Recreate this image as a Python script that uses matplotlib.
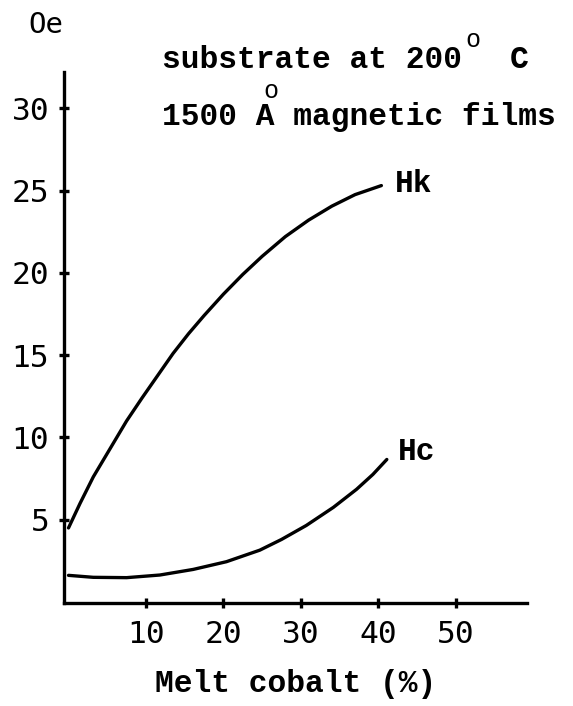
import matplotlib
matplotlib.use("Agg")
import matplotlib.pyplot as plt

# Melt cobalt content (%) and measured fields (Oe)
hk_cobalt = [0, 1.5, 3.2, 5.35, 7.5, 9.5, 11.5, 13.5, 15.5, 17.5, 20, 22.5, 25,
             28, 31, 34, 37, 40.4]
hk_field = [4.5, 6.0, 7.6, 9.3, 11.0, 12.4, 13.75, 15.1, 16.3, 17.4, 18.7, 19.9,
            21.0, 22.2, 23.2, 24.05, 24.75, 25.3]

hc_cobalt = [0, 3.2, 7.5, 11.8, 16.1, 20.4, 24.7, 27.5, 30.7, 34.2, 37.2, 39.3, 41.1]
hc_field = [1.62, 1.5, 1.48, 1.64, 1.98, 2.45, 3.15, 3.8, 4.65, 5.75, 6.85, 7.75, 8.66]

x_ticks = [10, 20, 30, 40, 50]
y_ticks = [5, 10, 15, 20, 25, 30]

W, H = 573, 706
DPI = 100
type_font = "Liberation Mono"
num_font = "DejaVu Sans Mono"
fs = 22.5

fig = plt.figure(figsize=(W / DPI, H / DPI), dpi=DPI)
ax = fig.add_axes([64 / W, 1 - 603 / H, (527 - 64) / W, (603 - 72) / H])

lw = 2.4
ax.plot(hk_cobalt, hk_field, color="black", lw=lw,
        solid_capstyle="round", solid_joinstyle="round")
ax.plot(hc_cobalt, hc_field, color="black", lw=lw,
        solid_capstyle="round", solid_joinstyle="round")

ax.set_xlim(-0.58, 59.2)
ax.set_ylim(-0.06, 32.2)

for side in ("top", "right"):
    ax.spines[side].set_visible(False)
for side in ("left", "bottom"):
    ax.spines[side].set_linewidth(2.4)

ax.set_xticks(x_ticks)
ax.set_yticks(y_ticks)
ax.set_xticklabels([str(v) for v in x_ticks], fontfamily=num_font, fontsize=fs)
ax.set_yticklabels([str(v) for v in y_ticks], fontfamily=num_font, fontsize=fs)
ax.tick_params(axis="both", direction="inout", length=7, width=2.4)
ax.tick_params(axis="x", pad=9)
ax.tick_params(axis="y", pad=7)

ax.set_xlabel("Melt cobalt (%)", fontfamily=type_font, fontsize=fs,
              fontweight="bold", labelpad=14)

# curve labels
ax.text(42.1, 25.4, "Hk", fontfamily=type_font, fontsize=fs, fontweight="bold",
        va="center", ha="left")
ax.text(42.5, 9.1, "Hc", fontfamily=type_font, fontsize=fs, fontweight="bold",
        va="center", ha="left")


def px(x, y):
    return x / W, 1 - y / H


# unit on top of the y axis
fig.text(*px(28, 25), "Oe", fontfamily=num_font, fontsize=21, va="center", ha="left")

# typed header
hdr = dict(fontfamily=type_font, fontsize=fs, fontweight="bold", va="baseline", ha="left")
fig.text(*px(162, 68), "substrate at 200", **hdr)
fig.text(*px(465, 47), "o", **{**hdr, "fontsize": fs * 0.8, "fontweight": "normal"})
fig.text(*px(510, 68), "C", **hdr)
fig.text(*px(162, 125), "1500 A magnetic films", **hdr)
fig.text(*px(263, 98), "o", **{**hdr, "fontsize": fs * 0.8, "fontweight": "normal"})

fig.savefig("out.png", dpi=DPI)
